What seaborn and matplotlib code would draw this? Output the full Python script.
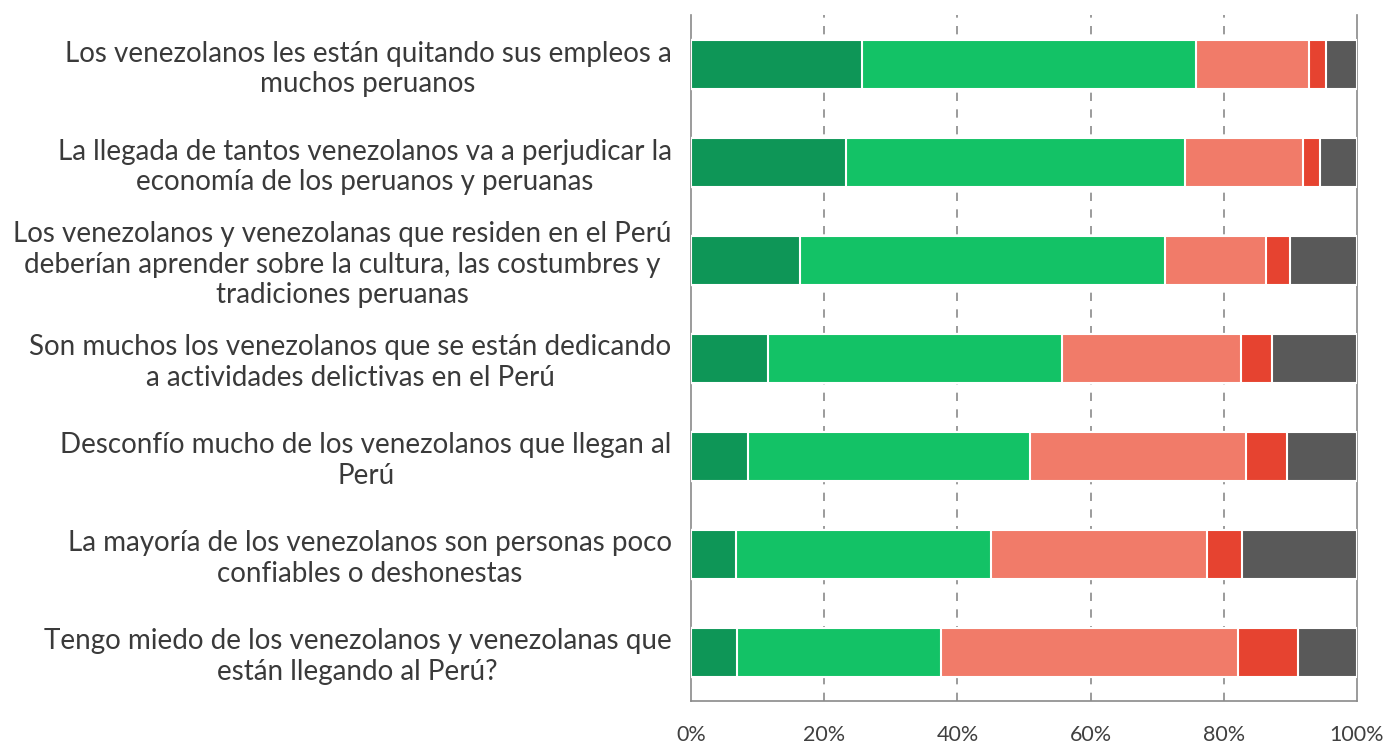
import matplotlib
matplotlib.use("Agg")
import matplotlib.pyplot as plt
import seaborn as sns
import pandas as pd
import numpy as np

statements = [
    "Los venezolanos les están quitando sus empleos a\nmuchos peruanos",
    "La llegada de tantos venezolanos va a perjudicar la\neconomía de los peruanos y peruanas",
    "Los venezolanos y venezolanas que residen en el Perú\ndeberían aprender sobre la cultura, las costumbres y\ntradiciones peruanas",
    "Son muchos los venezolanos que se están dedicando\na actividades delictivas en el Perú",
    "Desconfío mucho de los venezolanos que llegan al\nPerú",
    "La mayoría de los venezolanos son personas poco\nconfiables o deshonestas",
    "Tengo miedo de los venezolanos y venezolanas que\nestán llegando al Perú?",
]
muy_de_acuerdo = [25.7, 23.2, 16.4, 11.5, 8.6, 6.7, 6.9]
de_acuerdo = [50.1, 50.9, 54.8, 44.2, 42.3, 38.4, 30.7]
en_desacuerdo = [17.0, 17.8, 15.1, 26.9, 32.5, 32.4, 44.5]
muy_en_desacuerdo = [2.6, 2.6, 3.6, 4.7, 6.1, 5.3, 9.0]
no_sabe = [4.6, 5.5, 10.1, 12.7, 10.5, 17.2, 8.9]

series_names = ["Muy de acuerdo", "De acuerdo", "En desacuerdo", "Muy en desacuerdo", "No sabe / No responde"]
series_values = [muy_de_acuerdo, de_acuerdo, en_desacuerdo, muy_en_desacuerdo, no_sabe]
colors = ["#0E9657", "#13C266", "#F17B69", "#E64330", "#595959"]
tick_labels = ["0%", "20%", "40%", "60%", "80%", "100%"]

sns.set_theme(style="white")
plt.rcParams["font.family"] = ["Lato", "DejaVu Sans"]

df = pd.DataFrame({"statement": statements})
for name, vals in zip(series_names, series_values):
    df[name] = vals
cum = df[series_names].cumsum(axis=1)

fig = plt.figure(figsize=(13.91, 7.44), dpi=100)
ax = fig.add_axes([691 / 1391, 1 - 701 / 744, (1357 - 691) / 1391, (701 - 15) / 744])

# draw from largest cumulative to smallest so segments stack visually
for name, col in reversed(list(zip(series_names, colors))):
    sns.barplot(data=pd.DataFrame({"statement": statements, "v": cum[name]}),
                x="v", y="statement", orient="h", color=col, width=0.5,
                edgecolor="white", linewidth=1.5, ax=ax, saturation=1, zorder=3)

ax.set_xlim(0, 100)
ax.set_ylim(len(statements) - 0.5, -0.5)
ax.set_xticks([0, 20, 40, 60, 80, 100])
ax.set_xticklabels(tick_labels, fontsize=15.5, color="#404040")
ax.set_xlabel("")
ax.set_ylabel("")
ax.set_yticks(range(len(statements)))
ax.set_yticklabels(statements, fontsize=20, color="#3a3a3a", multialignment="center")
ax.set_yticks(np.arange(-0.5, len(statements), 1.0), minor=True)
ax.tick_params(axis="y", which="major", length=0, pad=14)
ax.tick_params(axis="y", which="minor", length=7, width=1.2, color="#8a8a8a", direction="out")
ax.tick_params(axis="x", which="major", length=7, width=1.2, color="#8a8a8a", direction="out", pad=10)

for x in [20, 40, 60, 80]:
    ax.axvline(x, color="#8a8a8a", linewidth=1.2, linestyle=(0, (5, 5)), zorder=1)

for side in ["left", "bottom", "right"]:
    ax.spines[side].set_visible(True)
    ax.spines[side].set_color("#8a8a8a")
    ax.spines[side].set_linewidth(1.2)
ax.spines["top"].set_visible(False)
ax.grid(False)

fig.savefig("out.png", dpi=100)
